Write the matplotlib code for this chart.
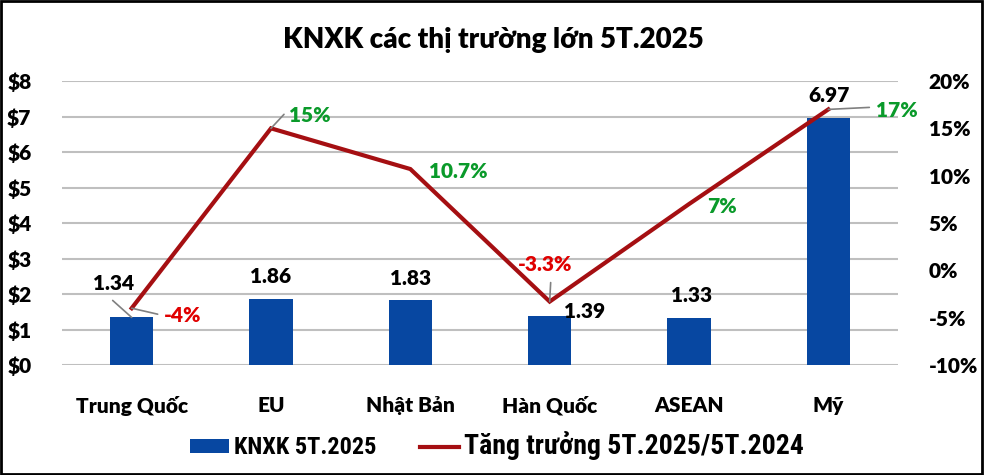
import matplotlib
matplotlib.use("Agg")
import matplotlib.pyplot as plt
from matplotlib.patches import Rectangle
from matplotlib.ticker import FuncFormatter, MultipleLocator

categories = ["Trung Quốc", "EU", "Nhật Bản", "Hàn Quốc", "ASEAN", "Mỹ"]
export_values = [1.34, 1.86, 1.83, 1.39, 1.33, 6.97]
growth_pct = [-4, 15, 10.7, -3.3, 7, 17]
growth_labels = ["-4%", "15%", "10.7%", "-3.3%", "7%", "17%"]
bar_labels = ["1.34", "1.86", "1.83", "1.39", "1.33", "6.97"]

FONT = ["Lato", "DejaVu Sans"]
NARROW = ["Liberation Sans Narrow", "Roboto Condensed", "Lato", "DejaVu Sans"]
W = "heavy"
plt.rcParams["font.family"] = FONT
plt.rcParams["font.weight"] = W

BAR_C = "#0747A1"
LINE_C = "#A50F12"
GREEN = "#0A9A2A"
RED = "#E00000"
GRID_C = "#BFBFBF"

fig = plt.figure(figsize=(9.84, 4.75), dpi=100)
ax = fig.add_axes([62 / 984, 1 - 365 / 475, (898 - 62) / 984, (365 - 81) / 475])
ax2 = ax.twinx()

x = list(range(len(categories)))
bars = ax.bar(x, export_values, width=0.31, color=BAR_C, zorder=2,
              label="KNXK 5T.2025")
ax.set_xlim(-0.5, len(categories) - 0.5)
ax.set_ylim(0, 8)
ax.yaxis.set_major_locator(MultipleLocator(1))
ax.yaxis.set_major_formatter(FuncFormatter(lambda v, p: f"${v:.0f}"))
ax.grid(axis="y", color=GRID_C, linewidth=1.5, zorder=0)
ax.set_axisbelow(True)
for s in ax.spines.values():
    s.set_visible(False)
for s in ax2.spines.values():
    s.set_visible(False)
ax.set_xticks(x)
ax.set_xticklabels(categories)
ax.tick_params(axis="x", length=0, pad=22, labelsize=15)
ax.tick_params(axis="y", length=0, pad=22, labelsize=15)

line, = ax2.plot(x, growth_pct, color=LINE_C, linewidth=3.0, zorder=3,
                 solid_joinstyle="miter", label="Tăng trưởng 5T.2025/5T.2024")
ax2.set_ylim(-10, 20)
ax2.yaxis.set_major_locator(MultipleLocator(5))
ax2.yaxis.set_major_formatter(FuncFormatter(lambda v, p: f"{v:.0f}%"))
ax2.tick_params(axis="y", length=0, pad=22, labelsize=15)
ax2.set_zorder(ax.get_zorder() + 1)
ax2.patch.set_visible(False)
for t in ax.get_xticklabels() + ax.get_yticklabels() + ax2.get_yticklabels():
    t.set_fontweight(W)

bar_offsets = [(-18, 34), (0, 22), (0, 22), (35, 4), (3, 22), (1, 22)]
for i, (val, lab, off) in enumerate(zip(export_values, bar_labels, bar_offsets)):
    ax.annotate(lab, xy=(i, val), xytext=off, textcoords="offset pixels",
                ha="center", va="center", fontsize=15, color="black",
                fontweight=W, zorder=5)
ax.annotate("", xy=(0, export_values[0]), xytext=(-19, 17),
            textcoords="offset pixels",
            arrowprops=dict(arrowstyle="-", color="#808080", lw=1.2,
                            shrinkA=0, shrinkB=0))

g_offsets = [(51, -7), (39, 13), (48, -2), (-5, 37), (33, -2), (69, -1)]
for i, (val, lab, off) in enumerate(zip(growth_pct, growth_labels, g_offsets)):
    col = GREEN if val > 0 else RED
    ax2.annotate(lab, xy=(i, val), xytext=off, textcoords="offset pixels",
                 ha="center", va="center", fontsize=15, color=col,
                 fontweight=W, zorder=6)

leaders = [
    (0, (26, -6)),
    (1, (13, 14)),
    (3, (1, 19)),
    (5, (41, 2)),
]
for i, (x1, y1) in leaders:
    ax2.annotate("", xy=(i, growth_pct[i]), xytext=(x1, y1),
                 textcoords="offset pixels",
                 arrowprops=dict(arrowstyle="-", color="#808080", lw=1.2,
                                 shrinkA=0, shrinkB=0), zorder=4)

fig.text(493 / 984, 1 - 40 / 475, "KNXK các thị trường lớn 5T.2025",
         ha="center", va="center", fontsize=20, fontweight=W,
         family=FONT)

leg = fig.legend(handles=[bars, line], loc="center",
                 bbox_to_anchor=(497 / 984, 1 - 446 / 475), ncol=2,
                 frameon=False, handlelength=1.6, handleheight=0.55,
                 columnspacing=1.8, handletextpad=0.2,
                 prop=dict(family=NARROW, weight="bold", size=17.5))
texts = leg.get_texts()
texts[1].set_fontsize(20)

fig.patches.append(Rectangle((0.001, 0.002), 0.997, 0.996,
                             transform=fig.transFigure, fill=False,
                             edgecolor="black", linewidth=2))

fig.savefig("out.png", dpi=100)
